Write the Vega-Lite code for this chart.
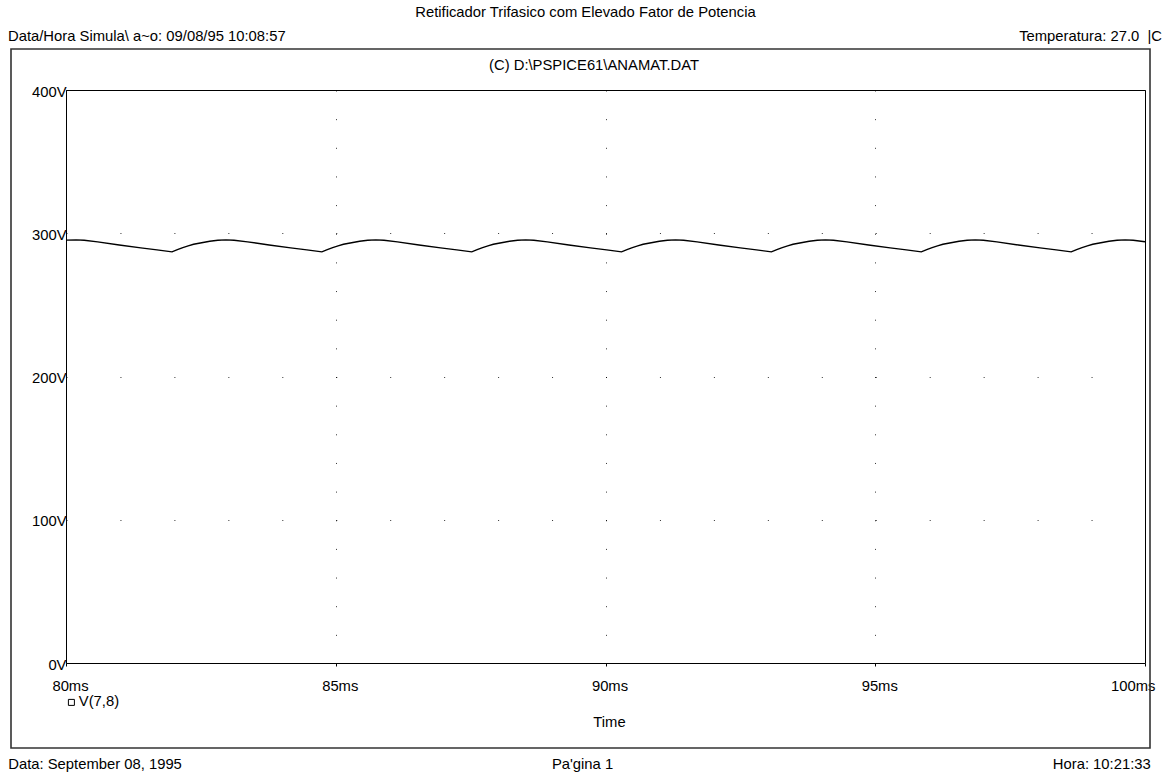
{
  "$schema": "https://vega.github.io/schema/vega-lite/v6.json",
  "width": 1079,
  "height": 573,
  "autosize": {"type": "none"},
  "padding": {"left": 66, "top": 90, "right": 26, "bottom": 109},
  "background": "white",
  "config": {
    "font": "Liberation Sans",
    "view": {"stroke": "#000000", "strokeWidth": 1},
    "text": {"font": "Liberation Sans", "fontSize": 14.8, "color": "#000000"}
  },
  "datasets": {
    "wave": [
      {"t": 80.0, "v": 295.2, "series": "V(7,8)"},
      {"t": 80.187, "v": 295.4, "series": "V(7,8)"},
      {"t": 80.337, "v": 295.1, "series": "V(7,8)"},
      {"t": 80.587, "v": 294.0, "series": "V(7,8)"},
      {"t": 80.987, "v": 291.8, "series": "V(7,8)"},
      {"t": 81.387, "v": 289.8, "series": "V(7,8)"},
      {"t": 81.687, "v": 288.4, "series": "V(7,8)"},
      {"t": 81.965, "v": 287.0, "series": "V(7,8)"},
      {"t": 82.065, "v": 288.6, "series": "V(7,8)"},
      {"t": 82.165, "v": 290.0, "series": "V(7,8)"},
      {"t": 82.265, "v": 291.2, "series": "V(7,8)"},
      {"t": 82.365, "v": 292.3, "series": "V(7,8)"},
      {"t": 82.515, "v": 293.4, "series": "V(7,8)"},
      {"t": 82.665, "v": 294.4, "series": "V(7,8)"},
      {"t": 82.815, "v": 295.1, "series": "V(7,8)"},
      {"t": 82.965, "v": 295.4, "series": "V(7,8)"},
      {"t": 83.115, "v": 295.1, "series": "V(7,8)"},
      {"t": 83.365, "v": 294.0, "series": "V(7,8)"},
      {"t": 83.765, "v": 291.8, "series": "V(7,8)"},
      {"t": 84.165, "v": 289.8, "series": "V(7,8)"},
      {"t": 84.465, "v": 288.4, "series": "V(7,8)"},
      {"t": 84.743, "v": 287.0, "series": "V(7,8)"},
      {"t": 84.843, "v": 288.6, "series": "V(7,8)"},
      {"t": 84.943, "v": 290.0, "series": "V(7,8)"},
      {"t": 85.043, "v": 291.2, "series": "V(7,8)"},
      {"t": 85.143, "v": 292.3, "series": "V(7,8)"},
      {"t": 85.293, "v": 293.4, "series": "V(7,8)"},
      {"t": 85.443, "v": 294.4, "series": "V(7,8)"},
      {"t": 85.593, "v": 295.1, "series": "V(7,8)"},
      {"t": 85.743, "v": 295.4, "series": "V(7,8)"},
      {"t": 85.893, "v": 295.1, "series": "V(7,8)"},
      {"t": 86.143, "v": 294.0, "series": "V(7,8)"},
      {"t": 86.543, "v": 291.8, "series": "V(7,8)"},
      {"t": 86.943, "v": 289.8, "series": "V(7,8)"},
      {"t": 87.243, "v": 288.4, "series": "V(7,8)"},
      {"t": 87.521, "v": 287.0, "series": "V(7,8)"},
      {"t": 87.621, "v": 288.6, "series": "V(7,8)"},
      {"t": 87.721, "v": 290.0, "series": "V(7,8)"},
      {"t": 87.821, "v": 291.2, "series": "V(7,8)"},
      {"t": 87.921, "v": 292.3, "series": "V(7,8)"},
      {"t": 88.071, "v": 293.4, "series": "V(7,8)"},
      {"t": 88.221, "v": 294.4, "series": "V(7,8)"},
      {"t": 88.371, "v": 295.1, "series": "V(7,8)"},
      {"t": 88.521, "v": 295.4, "series": "V(7,8)"},
      {"t": 88.671, "v": 295.1, "series": "V(7,8)"},
      {"t": 88.921, "v": 294.0, "series": "V(7,8)"},
      {"t": 89.321, "v": 291.8, "series": "V(7,8)"},
      {"t": 89.721, "v": 289.8, "series": "V(7,8)"},
      {"t": 90.021, "v": 288.4, "series": "V(7,8)"},
      {"t": 90.298, "v": 287.0, "series": "V(7,8)"},
      {"t": 90.398, "v": 288.6, "series": "V(7,8)"},
      {"t": 90.498, "v": 290.0, "series": "V(7,8)"},
      {"t": 90.598, "v": 291.2, "series": "V(7,8)"},
      {"t": 90.698, "v": 292.3, "series": "V(7,8)"},
      {"t": 90.848, "v": 293.4, "series": "V(7,8)"},
      {"t": 90.998, "v": 294.4, "series": "V(7,8)"},
      {"t": 91.148, "v": 295.1, "series": "V(7,8)"},
      {"t": 91.298, "v": 295.4, "series": "V(7,8)"},
      {"t": 91.448, "v": 295.1, "series": "V(7,8)"},
      {"t": 91.698, "v": 294.0, "series": "V(7,8)"},
      {"t": 92.098, "v": 291.8, "series": "V(7,8)"},
      {"t": 92.498, "v": 289.8, "series": "V(7,8)"},
      {"t": 92.798, "v": 288.4, "series": "V(7,8)"},
      {"t": 93.076, "v": 287.0, "series": "V(7,8)"},
      {"t": 93.176, "v": 288.6, "series": "V(7,8)"},
      {"t": 93.276, "v": 290.0, "series": "V(7,8)"},
      {"t": 93.376, "v": 291.2, "series": "V(7,8)"},
      {"t": 93.476, "v": 292.3, "series": "V(7,8)"},
      {"t": 93.626, "v": 293.4, "series": "V(7,8)"},
      {"t": 93.776, "v": 294.4, "series": "V(7,8)"},
      {"t": 93.926, "v": 295.1, "series": "V(7,8)"},
      {"t": 94.076, "v": 295.4, "series": "V(7,8)"},
      {"t": 94.226, "v": 295.1, "series": "V(7,8)"},
      {"t": 94.476, "v": 294.0, "series": "V(7,8)"},
      {"t": 94.876, "v": 291.8, "series": "V(7,8)"},
      {"t": 95.276, "v": 289.8, "series": "V(7,8)"},
      {"t": 95.576, "v": 288.4, "series": "V(7,8)"},
      {"t": 95.854, "v": 287.0, "series": "V(7,8)"},
      {"t": 95.954, "v": 288.6, "series": "V(7,8)"},
      {"t": 96.054, "v": 290.0, "series": "V(7,8)"},
      {"t": 96.154, "v": 291.2, "series": "V(7,8)"},
      {"t": 96.254, "v": 292.3, "series": "V(7,8)"},
      {"t": 96.404, "v": 293.4, "series": "V(7,8)"},
      {"t": 96.554, "v": 294.4, "series": "V(7,8)"},
      {"t": 96.704, "v": 295.1, "series": "V(7,8)"},
      {"t": 96.854, "v": 295.4, "series": "V(7,8)"},
      {"t": 97.004, "v": 295.1, "series": "V(7,8)"},
      {"t": 97.254, "v": 294.0, "series": "V(7,8)"},
      {"t": 97.654, "v": 291.8, "series": "V(7,8)"},
      {"t": 98.054, "v": 289.8, "series": "V(7,8)"},
      {"t": 98.354, "v": 288.4, "series": "V(7,8)"},
      {"t": 98.632, "v": 287.0, "series": "V(7,8)"},
      {"t": 98.732, "v": 288.6, "series": "V(7,8)"},
      {"t": 98.832, "v": 290.0, "series": "V(7,8)"},
      {"t": 98.932, "v": 291.2, "series": "V(7,8)"},
      {"t": 99.032, "v": 292.3, "series": "V(7,8)"},
      {"t": 99.182, "v": 293.4, "series": "V(7,8)"},
      {"t": 99.332, "v": 294.4, "series": "V(7,8)"},
      {"t": 99.482, "v": 295.1, "series": "V(7,8)"},
      {"t": 99.632, "v": 295.4, "series": "V(7,8)"},
      {"t": 99.782, "v": 295.1, "series": "V(7,8)"},
      {"t": 100.0, "v": 294.1, "series": "V(7,8)"}
    ]
  },
  "layer": [
    {
      "data": {"name": "wave"},
      "mark": {"type": "line", "strokeWidth": 1.4, "interpolate": "linear"},
      "encoding": {
        "x": {
          "field": "t", "type": "quantitative",
          "scale": {"domain": [80, 100], "nice": false, "zero": false},
          "axis": {
            "values": [80, 85, 90, 95, 100],
            "labelExpr": "datum.value + 'ms'",
            "domain": false,
            "ticks": true, "tickSize": 3, "tickColor": "#000000",
            "labelFontSize": 14.8, "labelColor": "#000000",
            "labelBaseline": "alphabetic", "labelPadding": 24,
            "labelAlign": {"condition": {"test": "datum.value == 100", "value": "right"}, "value": "center"},
            "labelOffset": {"condition": {"test": "datum.value == 100", "value": 10}, "value": 4},
            "labelFlush": false, "labelOverlap": false, "labelBound": false,
            "grid": true, "gridDash": [1, 27.65], "gridColor": "#000000", "gridOpacity": 0.8, "gridWidth": 1,
            "title": "Time", "titleFontSize": 14.8, "titleFontWeight": "normal", "titleColor": "#000000",
            "titleBaseline": "alphabetic", "titleY": 63, "titleX": 543
          }
        },
        "y": {
          "field": "v", "type": "quantitative",
          "scale": {"domain": [0, 400], "nice": false, "zero": false},
          "axis": {
            "values": [0, 100, 200, 300, 400],
            "labelExpr": "datum.value + 'V'",
            "domain": false,
            "ticks": false,
            "labelFontSize": 14.8, "labelColor": "#000000",
            "labelPadding": 0, "labelOffset": 2,
            "labelFlush": false, "labelOverlap": false, "labelBound": false,
            "grid": true, "gridDash": [1, 52.95], "gridColor": "#000000", "gridOpacity": 0.8, "gridWidth": 1,
            "title": null
          }
        },
        "color": {
          "field": "series", "type": "nominal",
          "scale": {"range": ["#000000"]},
          "legend": {
            "orient": "none", "legendX": -2, "legendY": 605,
            "title": null, "symbolType": "square", "symbolSize": 36,
            "symbolFillColor": "white", "symbolStrokeColor": "#000000", "symbolStrokeWidth": 1,
            "labelFontSize": 14.8, "labelColor": "#000000", "labelFont": "Liberation Sans",
            "labelOffset": 0, "padding": 0
          }
        }
      }
    },
    {
      "data": {"values": [{}]},
      "mark": {"type": "rect", "filled": false, "stroke": "#333333", "strokeWidth": 1.6, "clip": false},
      "encoding": {
        "x": {"datum": 78.9805, "type": "quantitative"},
        "x2": {"datum": 100.0927},
        "y": {"datum": 428.62, "type": "quantitative"},
        "y2": {"datum": -59.34}
      }
    },
    {
      "data": {"values": [{"label": "Retificador Trifasico com Elevado Fator de Potencia"}]},
      "mark": {"type": "text", "align": "center", "baseline": "alphabetic", "clip": false},
      "encoding": {
        "x": {"datum": 89.629, "type": "quantitative"},
        "y": {"datum": 450.96, "type": "quantitative"},
        "text": {"field": "label"}
      }
    },
    {
      "data": {"values": [{"label": "Data/Hora Simula\\ a~o: 09/08/95 10:08:57"}]},
      "mark": {"type": "text", "align": "left", "baseline": "alphabetic", "clip": false},
      "encoding": {
        "x": {"datum": 78.925, "type": "quantitative"},
        "y": {"datum": 434.42, "type": "quantitative"},
        "text": {"field": "label"}
      }
    },
    {
      "data": {"values": [{"label": "Temperatura: 27.0\u00a0 |C"}]},
      "mark": {"type": "text", "align": "right", "baseline": "alphabetic", "clip": false},
      "encoding": {
        "x": {"datum": 100.315, "type": "quantitative"},
        "y": {"datum": 434.42, "type": "quantitative"},
        "text": {"field": "label"}
      }
    },
    {
      "data": {"values": [{"label": "(C) D:\\PSPICE61\\ANAMAT.DAT"}]},
      "mark": {"type": "text", "align": "right", "baseline": "alphabetic", "clip": false},
      "encoding": {
        "x": {"datum": 91.733, "type": "quantitative"},
        "y": {"datum": 414.31, "type": "quantitative"},
        "text": {"field": "label"}
      }
    },
    {
      "data": {"values": [{"label": "Data: September 08, 1995"}]},
      "mark": {"type": "text", "align": "left", "baseline": "alphabetic", "clip": false},
      "encoding": {
        "x": {"datum": 78.93, "type": "quantitative"},
        "y": {"datum": -74.0, "type": "quantitative"},
        "text": {"field": "label"}
      }
    },
    {
      "data": {"values": [{"label": "Pa'gina 1"}]},
      "mark": {"type": "text", "align": "center", "baseline": "alphabetic", "clip": false},
      "encoding": {
        "x": {"datum": 89.574, "type": "quantitative"},
        "y": {"datum": -74.0, "type": "quantitative"},
        "text": {"field": "label"}
      }
    },
    {
      "data": {"values": [{"label": "Hora: 10:21:33"}]},
      "mark": {"type": "text", "align": "right", "baseline": "alphabetic", "clip": false},
      "encoding": {
        "x": {"datum": 100.106, "type": "quantitative"},
        "y": {"datum": -74.0, "type": "quantitative"},
        "text": {"field": "label"}
      }
    }
  ]
}
